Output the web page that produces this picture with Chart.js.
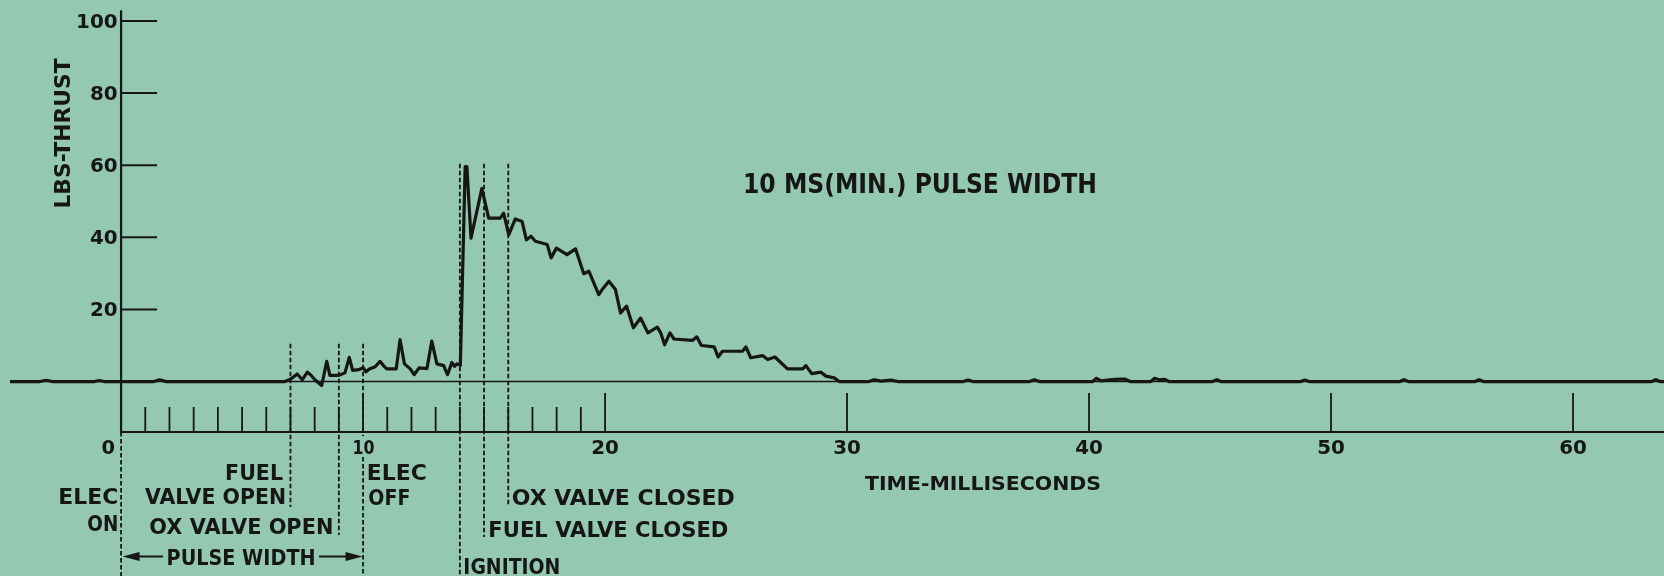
<!DOCTYPE html>
<html>
<head>
  <title>Thrust Trace - 10 ms Pulse</title>
  <script src="https://cdn.jsdelivr.net/npm/chart.js"></script>
  <style>
    html, body {
      margin: 0;
      padding: 0;
      background: #94c8b1;
    }
    canvas {
      display: block;
    }
  </style>
</head>
<body>
  <canvas id="thrustChart" width="1664" height="576"></canvas>

  <script>
    // thrust trace: time in ms, thrust in lbs
    const timeMs = [
      -4.59, -3.35, -3.1, -2.85, -1.1, -0.9, -0.7, 1.35, 1.6, 1.85, 6.77,
      7.0, 7.28, 7.49, 7.7, 7.83, 8.01, 8.29, 8.5, 8.63, 8.98, 9.25, 9.43, 9.57, 9.81,
      10.01, 10.12, 10.26, 10.5, 10.7, 10.87, 10.98, 11.37, 11.53, 11.71, 11.95, 12.11,
      12.32, 12.64, 12.84, 13.05, 13.33, 13.49, 13.67, 13.78, 13.88, 14.02,
      14.22, 14.29, 14.46, 14.91, 15.19, 15.67, 15.81, 16.02, 16.29, 16.57, 16.75, 16.94,
      17.12, 17.61, 17.77, 17.99, 18.43, 18.78, 19.12, 19.33, 19.74, 19.88, 20.16, 20.43,
      20.64, 20.89, 21.17, 21.47, 21.77, 22.16, 22.3, 22.46, 22.68, 22.85, 23.61, 23.79,
      23.98, 24.51, 24.67, 24.85, 25.68, 25.82, 26.02, 26.51, 26.72, 27.02, 27.27, 27.54,
      28.17, 28.3, 28.54, 28.92, 29.13, 29.47, 29.68,
      30.9, 31.12, 31.4, 31.82, 32.1, 34.8, 35.0, 35.2, 37.55, 37.74, 37.95,
      40.15, 40.31, 40.5, 41.06, 41.47, 41.7, 42.55, 42.71, 42.9, 43.13, 43.3,
      45.1, 45.28, 45.45, 48.75, 48.92, 49.1, 52.85, 53.01, 53.2, 55.95, 56.12, 56.3,
      63.25, 63.42, 63.6, 63.76
    ];
    const thrustLbs = [
      0, 0, 0.35, 0, 0, 0.3, 0, 0, 0.45, 0, 0,
      0.6, 2.1, 0.5, 2.6, 1.9, 0.5, -1.1, 5.6, 1.7, 1.7, 2.4, 6.7, 3.1, 3.3,
      3.8, 2.7, 3.5, 4.1, 5.6, 4.2, 3.5, 3.5, 11.6, 4.9, 3.5, 1.9,
      3.8, 3.6, 11.2, 4.9, 4.4, 1.9, 5.3, 4.2, 4.9, 4.5,
      59.6, 59.6, 39.8, 53.6, 45.3, 45.3, 46.7, 40.7, 45.1, 44.4, 39.3, 40.3,
      38.9, 38.0, 34.3, 37.0, 35.2, 36.8, 29.9, 30.6, 24.1, 25.5, 27.8, 25.5,
      19.0, 20.9, 14.9, 17.6, 13.5, 15.1, 13.5, 10.2, 13.5, 11.8, 11.4, 12.4,
      10.0, 9.6, 6.8, 8.4, 8.4, 9.6, 6.6, 7.2, 6.1, 6.8, 5.2, 3.5,
      3.5, 4.4, 2.2, 2.6, 1.5, 1.0, 0,
      0, 0.5, 0.1, 0.4, 0, 0, 0.45, 0, 0, 0.5, 0,
      0, 0.9, 0.2, 0.6, 0.7, 0, 0, 0.9, 0.5, 0.6, 0,
      0, 0.5, 0, 0, 0.4, 0, 0, 0.5, 0, 0, 0.5, 0,
      0, 0.5, 0, 0
    ];

    const thrustTicks = [20, 40, 60, 80, 100];
    const timeMajorTicks = [10, 20, 30, 40, 50, 60];
    const timeMinorTicks = [1, 2, 3, 4, 5, 6, 7, 8, 9, 11, 12, 13, 14, 15, 16, 17, 18, 19];
    const timeLabels = [0, 10, 20, 30, 40, 50, 60];

    // valve / electrical events (ms)
    const eventMs = [0, 7, 9, 10, 14, 15, 16];

    const INK = '#161616';

    function drawLabel(ctx, text, x, base, cap, width, align) {
      ctx.font = 'bold ' + (cap / 0.73).toFixed(1) + 'px "DejaVu Sans", sans-serif';
      const natural = ctx.measureText(text).width;
      const w = width || natural;
      const left = align === 'right' ? x - w : align === 'center' ? x - w / 2 : x;
      ctx.save();
      ctx.translate(left, base);
      ctx.scale(w / natural, 1);
      ctx.textAlign = 'left';
      ctx.textBaseline = 'alphabetic';
      ctx.fillText(text, 0, 0);
      ctx.restore();
    }

    function line(ctx, x1, y1, x2, y2) {
      ctx.beginPath();
      ctx.moveTo(x1, y1);
      ctx.lineTo(x2, y2);
      ctx.stroke();
    }

    const tracePaper = {
      id: 'tracePaper',
      beforeDatasetsDraw(chart) {
        const { ctx, chartArea: a, scales: { x, y } } = chart;
        const X = v => x.getPixelForValue(v);
        const Y = v => y.getPixelForValue(v);
        const x0 = X(0);
        const yAxis = Y(y.min);

        ctx.save();
        ctx.strokeStyle = INK;

        // zero thrust line runs the full width
        ctx.lineWidth = 1.6;
        line(ctx, a.left, Y(0), a.right, Y(0));

        // thrust axis and time axis
        ctx.lineWidth = 2.2;
        line(ctx, x0, Y(103), x0, yAxis + 1);
        line(ctx, x0 - 1, yAxis, a.right, yAxis);

        // thrust ticks point inward
        ctx.lineWidth = 2;
        thrustTicks.forEach(v => line(ctx, x0, Y(v), x0 + 36, Y(v)));

        // time ticks stand up from the time axis
        ctx.lineWidth = 1.8;
        timeMinorTicks.forEach(v => line(ctx, X(v), yAxis, X(v), yAxis - 25));
        timeMajorTicks.forEach(v => line(ctx, X(v), yAxis, X(v), yAxis - 39));

        // dashed event markers: [top, bottom] pixel spans
        const spans = {
          0: [[yAxis, 576]],
          7: [[Y(10.5), 507]],
          9: [[Y(10.5), 535]],
          10: [[Y(10.5), 436], [457, 576]],
          14: [[Y(60.4), 576]],
          15: [[Y(60.4), 537]],
          16: [[Y(60.4), 506]]
        };
        ctx.lineWidth = 1.8;
        ctx.setLineDash([4.5, 2.5]);
        eventMs.forEach(t => {
          spans[t].forEach(s => line(ctx, X(t), s[0], X(t), s[1]));
        });
        ctx.setLineDash([]);
        ctx.restore();
      },
      afterDraw(chart) {
        const { ctx, scales: { x, y } } = chart;
        const X = v => x.getPixelForValue(v);
        const Y = v => y.getPixelForValue(v);

        ctx.save();
        ctx.fillStyle = INK;
        ctx.strokeStyle = INK;

        // thrust tick labels
        thrustTicks.forEach(v => drawLabel(ctx, String(v), X(0) - 3.5, Y(v) + 7, 14.5, null, 'right'));

        // time tick labels
        timeLabels.forEach(v => {
          if (v === 0) drawLabel(ctx, '0', X(0) - 6, 453.5, 14.5, 13.5, 'right');
          else if (v === 10) drawLabel(ctx, '10', X(10) + 0.5, 453.5, 14.5, 22, 'center');
          else drawLabel(ctx, String(v), X(v), 453.5, 14.5, null, 'center');
        });

        // axis titles
        drawLabel(ctx, 'TIME-MILLISECONDS', 865, 490, 14, 236, 'left');
        ctx.save();
        ctx.translate(69.5, 208.5);
        ctx.rotate(-Math.PI / 2);
        drawLabel(ctx, 'LBS-THRUST', 0, 0, 16, 150, 'left');
        ctx.restore();

        drawLabel(ctx, '10 MS(MIN.) PULSE WIDTH', 743, 193, 19, 354, 'left');

        // event notes hung off the dashed markers
        const notes = [
          ['ELEC', 0, -2.7, 503.5, 60, 'right'],
          ['ON', 0, -2.7, 530.5, 31, 'right'],
          ['FUEL', 7, -7.4, 480, 58, 'right'],
          ['VALVE OPEN', 7, -4.4, 503.5, 141, 'right'],
          ['OX VALVE OPEN', 9, -5.5, 534, 184, 'right'],
          ['ELEC', 10, 3.7, 480, 60, 'left'],
          ['OFF', 10, 5.3, 505, 42, 'left'],
          ['IGNITION', 14, 3.5, 573.5, 97, 'left'],
          ['FUEL VALVE CLOSED', 15, 4.3, 536.5, 240, 'left'],
          ['OX VALVE CLOSED', 16, 3.5, 505, 223, 'left']
        ];
        notes.forEach(n => drawLabel(ctx, n[0], X(n[1]) + n[2], n[3], 15.5, n[4], n[5]));

        // pulse width dimension arrow between ELEC ON and ELEC OFF
        const ay = 556.5;
        const left = X(0) + 1.5;
        const right = X(10) - 0.5;
        const mid = (left + right) / 2 - 1.5;
        drawLabel(ctx, 'PULSE WIDTH', mid, 565, 15.5, 149, 'center');
        ctx.lineWidth = 2;
        line(ctx, left + 10, ay, mid - 78, ay);
        line(ctx, mid + 78, ay, right - 10, ay);
        ctx.beginPath();
        ctx.moveTo(left, ay);
        ctx.lineTo(left + 17, ay - 4.5);
        ctx.lineTo(left + 17, ay + 4.5);
        ctx.closePath();
        ctx.fill();
        ctx.beginPath();
        ctx.moveTo(right, ay);
        ctx.lineTo(right - 17, ay - 4.5);
        ctx.lineTo(right - 17, ay + 4.5);
        ctx.closePath();
        ctx.fill();

        ctx.restore();
      }
    };

    const ctx = document.getElementById('thrustChart').getContext('2d');
    new Chart(ctx, {
      type: 'line',
      data: {
        datasets: [{
          label: 'Thrust',
          data: timeMs.map((t, i) => ({ x: t, y: thrustLbs[i] })),
          borderColor: INK,
          borderWidth: 3.2,
          borderJoinStyle: 'round',
          borderCapStyle: 'round',
          pointRadius: 0,
          tension: 0,
          fill: false
        }]
      },
      options: {
        responsive: false,
        devicePixelRatio: 1,
        animation: false,
        events: [],
        layout: {
          padding: { left: 10, right: 0, top: 21, bottom: 144 }
        },
        plugins: {
          legend: { display: false },
          tooltip: { enabled: false }
        },
        scales: {
          x: { type: 'linear', min: -4.59, max: 63.76, display: false },
          y: { min: -14, max: 100, display: false }
        }
      },
      plugins: [tracePaper]
    });
  </script>
</body>
</html>
